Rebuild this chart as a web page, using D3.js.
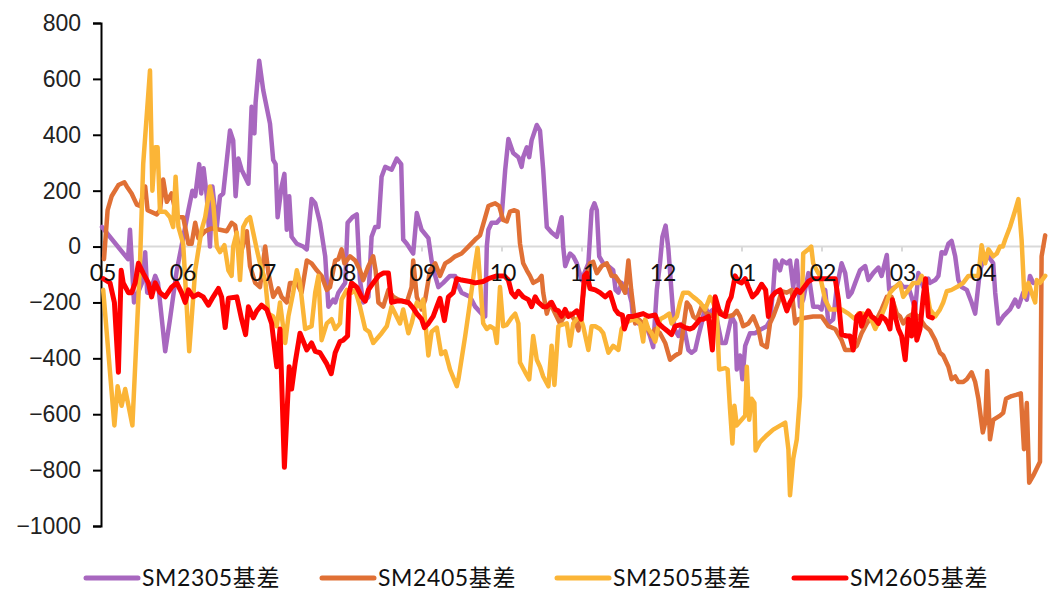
<!DOCTYPE html>
<html lang="zh">
<head>
<meta charset="utf-8">
<title>SM basis</title>
<script src="https://d3js.org/d3.v7.min.js"></script>
<style>
  body { margin: 0; background: #fff; }
  .yaxis text { font-family: "Liberation Sans", Arial, sans-serif; font-size: 23px; fill: #222; }
  .xlab { font-family: Lato, "Noto Sans", sans-serif; font-size: 23px; fill: #111; }
  .legend text { font-family: Lato, "Noto Sans CJK SC", sans-serif; font-size: 23px; letter-spacing: 0.6px; fill: #111; }
</style>
</head>
<body>
<script>
// months shown on the category axis (one label every 20 trading days)
var months = ["05", "06", "07", "08", "09", "10", "11", "12", "01", "02", "03", "04"];
var daysPerMonth = 20;
var lastDay = 236;

var yTicks = [800, 600, 400, 200, 0, -200, -400, -600, -800, -1000];

var names = ["SM2305基差", "SM2405基差", "SM2505基差", "SM2605基差"];
var colors = ["#a867bf", "#e07035", "#fbb537", "#ff0000"];

// [trading day, basis]
var sm2305 = [[0,70],[6.5,-45],[7,60],[8,-200],[10,-130],[10.8,-20],[11.3,-165],[12,-165],[13.3,-105],[14,-130],[15.8,-375],[17,-260],[18.7,-85],[20,10],[21.6,130],[22.6,200],[23.3,180],[24.3,295],[24.8,190],[25.4,280],[26.2,180],[27,0],[27.6,215],[28.7,70],[29.5,180],[30.3,190],[32,415],[32.8,380],[33.4,180],[34.1,315],[34.9,275],[36.6,225],[37.4,500],[38.1,405],[38.4,515],[39.3,665],[40.3,560],[42,440],[42.8,310],[43.4,295],[43.9,105],[44.9,215],[45.6,260],[46.2,60],[46.8,180],[47.4,35],[48.7,10],[50.3,0],[51.2,-10],[52.4,170],[53.3,155],[54.5,85],[55.8,-35],[56.6,-215],[57.8,-190],[58.3,-200],[59.1,-165],[60.8,-130],[61.4,85],[62.6,105],[63.7,115],[64.5,-120],[65.3,-200],[66.6,-180],[67.4,35],[68.3,70],[69.1,70],[69.9,250],[70.8,285],[72.4,275],[73.7,315],[74.8,295],[75.3,25],[76.2,10],[77.8,-25],[78.7,120],[79.9,60],[81.6,30],[82.4,-50],[83.3,-105],[84.1,-145],[85.3,-130],[87,-105],[88.3,-105],[88.7,-130],[89.9,-165],[92,-180],[93.3,-215],[94.9,-240],[95.8,-250],[96.2,0],[96.6,60],[97.4,85],[98.7,85],[99.9,105],[100.8,275],[101.6,385],[102.8,335],[104.1,320],[104.9,285],[105.3,320],[106.2,355],[106.8,320],[107.4,380],[108.7,435],[109.5,415],[110.3,275],[111.2,70],[112.4,50],[113.7,35],[114.9,105],[115.3,0],[115.8,-70],[117,-25],[117.8,-35],[118.7,-60],[119.9,-120],[121.6,-60],[122.4,130],[123.1,155],[123.7,130],[124.3,-35],[125.3,-60],[126.6,-70],[127.8,-85],[128.4,-155],[129.1,-165],[129.9,-130],[130.8,-165],[131.6,-155],[132.4,-200],[132.8,-260],[134.1,-275],[135.8,-275],[137,-320],[137.8,-360],[138.7,-155],[139.5,-60],[140.1,35],[140.9,75],[141.6,-10],[142.4,-165],[143.1,-295],[144.1,-320],[145.3,-275],[146.6,-370],[147.4,-380],[148.3,-370],[149.1,-320],[149.9,-275],[150.8,-215],[151.6,-240],[152.8,-225],[153.7,-260],[154.9,-345],[155.9,-345],[157.4,-250],[158.3,-275],[158.7,-440],[159.5,-390],[160.1,-475],[160.8,-355],[162,-310],[163.3,-310],[164.9,-295],[166.2,-285],[167,-265],[167.8,-155],[168.3,-50],[169.5,-85],[170.1,-50],[171.2,-60],[172,-50],[172.8,-145],[173.7,-50],[174.5,-215],[175.3,-190],[176.6,-95],[177.8,-215],[179.1,-215],[179.9,-225],[180.8,-155],[181.6,-275],[182.8,-260],[183.7,-145],[184.9,-60],[185.8,-95],[186.6,-180],[187.4,-165],[188.3,-130],[189.5,-85],[190.8,-70],[191.6,-120],[192.8,-95],[194.1,-75],[194.9,-105],[196.2,-30],[196.8,-155],[198.3,-145],[199.5,-130],[200.3,-145],[201.6,-145],[202.4,-180],[203.3,-225],[204.1,-95],[205.3,-145],[206.6,-115],[207,-130],[208.3,-120],[209.1,-105],[209.9,-20],[210.8,-25],[211.6,10],[212.4,20],[213.3,-35],[214.1,-120],[214.9,-145],[216.2,-155],[217.4,-200],[218.3,-240],[219.5,-85],[220.3,-50],[221.6,-35],[222.8,-60],[223.3,-165],[224.1,-275],[225.3,-250],[227,-225],[228.3,-190],[229.1,-215],[230.3,-165],[231.2,-190],[232,-105],[232.8,-130]];

var sm2405 = [[0.5,-45],[1.4,130],[2.4,180],[4.1,220],[5.6,230],[6.2,215],[7.4,190],[8.7,150],[9.5,145],[10.8,215],[11.4,130],[13.7,115],[14.5,130],[15.3,240],[16.2,160],[17.4,190],[18.7,105],[20.3,105],[21.6,10],[22.4,10],[23.3,85],[24.1,30],[25.8,55],[27.4,65],[29.5,60],[31.2,55],[32.4,85],[33.3,75],[34.5,-35],[36.2,55],[37,-70],[38.3,-130],[39.5,-145],[40.8,0],[41.6,-95],[42.8,-180],[44.1,-150],[44.9,-180],[46.2,-200],[47,-130],[48.7,-130],[49.9,-165],[51.2,-50],[52.4,-60],[53.7,-85],[54.9,-105],[56.2,-155],[57,-145],[58.3,-50],[59.1,-45],[59.9,-10],[60.6,-60],[62,-35],[63.3,-50],[64.5,-85],[65.3,-120],[66.6,-70],[67.8,-35],[68.4,-85],[69.1,-200],[70.3,-215],[71.6,-155],[72.8,-180],[74.1,-190],[76.2,-200],[77.4,-145],[77.8,-50],[78.7,-180],[79.9,-225],[80.8,-190],[82,-85],[83.3,-60],[84.5,-105],[85.8,-60],[87,-50],[88.3,-35],[89.9,-25],[91.6,0],[93.3,25],[94.5,40],[95.6,95],[96.6,145],[97.4,150],[98.3,155],[99.3,145],[100.3,95],[101.2,90],[102,125],[103.1,130],[103.9,125],[104.5,10],[105.3,-60],[106.2,-85],[107,-105],[107.8,-130],[109.1,-120],[109.9,-105],[110.3,-165],[111.2,-240],[112,-200],[113.3,-240],[114.5,-275],[115.8,-245],[117,-240],[118.3,-265],[119.1,-300],[119.9,-215],[120.8,-120],[122,-60],[122.8,-55],[123.7,-95],[124.9,-70],[126.2,-60],[127.4,-105],[128.3,-105],[129.5,-130],[130.8,-165],[131.6,-50],[132.3,-155],[133.3,-275],[134.1,-260],[135.3,-275],[136.2,-285],[137.4,-320],[138.3,-295],[139.5,-310],[140.8,-345],[142,-405],[143.3,-390],[144.5,-380],[145.3,-295],[146.2,-200],[147,-215],[147.8,-250],[148.7,-260],[149.9,-215],[151.2,-240],[152.8,-250],[154.1,-225],[155.8,-250],[156.6,-250],[157.8,-245],[158.7,-230],[159.5,-250],[160.3,-285],[161.6,-275],[162.8,-250],[164.1,-295],[164.9,-350],[166.2,-360],[167,-275],[167.8,-250],[169.1,-200],[169.9,-160],[171.2,-165],[172.4,-155],[173.3,-275],[174.1,-260],[175.8,-255],[177.8,-250],[179.9,-250],[181.6,-285],[183.3,-295],[184.9,-335],[185.8,-370],[187.4,-370],[188.7,-355],[189.9,-310],[191.2,-275],[192.4,-250],[193.7,-260],[194.9,-225],[196.2,-180],[197.4,-180],[198.7,-240],[199.5,-250],[200.3,-275],[201.6,-250],[202.8,-240],[204.1,-250],[205.8,-285],[207,-300],[208.3,-335],[209.5,-380],[210.3,-390],[211.6,-430],[212.4,-475],[213.3,-465],[214.1,-485],[215.3,-485],[216.2,-475],[217.4,-450],[218.3,-485],[219.1,-545],[220.2,-665],[220.8,-630],[221.3,-445],[222,-690],[222.8,-620],[224.5,-605],[225.3,-595],[226,-545],[227.4,-535],[228.7,-530],[229.7,-525],[230.5,-725],[231.2,-560],[231.8,-845],[232.8,-820],[234.5,-770],[234.9,-35],[235.8,40]];

var sm2505 = [[0.3,-155],[3.1,-640],[3.9,-500],[4.9,-570],[5.8,-510],[7.6,-640],[9.5,-60],[10.3,295],[12,630],[12.6,200],[13.3,355],[13.9,355],[14.5,125],[15.8,125],[17,105],[17.8,70],[18.4,250],[19.1,70],[20.3,10],[21.8,-375],[23.3,-85],[24.9,60],[25.8,105],[27,215],[27.8,155],[28.7,0],[29.5,-20],[30.6,5],[31.6,-85],[32.4,-105],[32.8,0],[33.7,50],[34.5,-120],[35.3,70],[36.2,95],[37,105],[37.8,50],[38.7,-10],[39.5,-60],[40.8,-120],[41.6,-240],[42.8,-250],[43.7,-285],[44.5,-200],[45.8,-345],[46.6,-250],[47.8,-165],[48.7,-85],[49.5,-130],[50.8,-295],[52.4,-285],[53.3,-165],[54.1,-105],[54.9,-335],[56.2,-275],[57.4,-260],[58.3,-295],[59.5,-275],[59.9,-190],[61.2,-155],[62.4,-165],[63.3,-155],[64.5,-215],[65.8,-295],[66.8,-305],[67.8,-345],[69.9,-310],[71.2,-285],[72.4,-215],[73.3,-240],[74.5,-275],[75.3,-225],[76.6,-310],[77.4,-275],[78.7,-200],[79.5,-215],[80.3,-190],[81.6,-390],[82.4,-305],[83.7,-290],[84.8,-385],[85.8,-375],[87,-440],[88.7,-500],[89.1,-475],[90.8,-320],[92,-200],[93.3,-60],[93.9,-5],[94.5,-120],[95.3,-275],[96.2,-295],[97,-285],[98.1,-295],[98.7,-345],[99.5,-145],[100.3,-285],[101.2,-280],[102.4,-255],[103.3,-240],[104.1,-275],[104.5,-415],[105.8,-450],[106.8,-475],[107.8,-320],[108.7,-405],[109.5,-430],[110.3,-465],[111.6,-500],[112.4,-355],[113.1,-495],[114.1,-285],[114.9,-280],[116.2,-275],[117,-355],[117.8,-275],[118.7,-260],[119.5,-250],[120.3,-285],[121.6,-370],[122.4,-285],[123.3,-285],[124.5,-295],[125.3,-310],[126.6,-380],[127.8,-355],[129.1,-370],[129.9,-295],[130.8,-275],[132,-265],[133.3,-260],[134.5,-275],[135.3,-340],[135.8,-260],[136.6,-295],[137.4,-310],[138.3,-340],[139.5,-260],[140.8,-250],[141.8,-240],[142.4,-275],[143.7,-250],[144.5,-200],[145.3,-165],[146.6,-165],[147.8,-180],[148.7,-190],[149.5,-200],[150.8,-225],[152,-180],[152.8,-200],[153.7,-240],[154.3,-440],[155.8,-435],[156.4,-440],[157,-580],[157.6,-705],[158.1,-570],[158.7,-640],[159.9,-620],[160.8,-605],[161.2,-430],[161.8,-620],[162.4,-545],[163.1,-560],[163.4,-730],[164.5,-700],[166.2,-675],[167.8,-655],[170.8,-630],[171.6,-725],[172,-890],[172.8,-760],[173.7,-690],[174.5,-535],[174.9,-260],[175.3,-25],[176.6,-10],[177.3,0],[177.8,-60],[178.7,-85],[179.5,-105],[180.8,-190],[182,-225],[183.3,-225],[184.9,-225],[186.6,-240],[188.3,-260],[189.1,-240],[190.3,-240],[191.2,-250],[192,-250],[193.3,-295],[194.5,-260],[195.8,-215],[197,-165],[198.3,-145],[199.5,-130],[200.3,-180],[201.6,-155],[202.8,-130],[204.1,-130],[204.9,-105],[205.8,-130],[207,-225],[208.3,-250],[209.5,-225],[210.3,-200],[211.2,-160],[212.4,-155],[213.7,-145],[215.3,-130],[216.6,-105],[217.8,-105],[219.1,-105],[219.9,5],[220.8,-60],[221.6,-10],[222.8,-35],[223.7,-25],[224.5,0],[225.2,0],[225.8,25],[227,70],[228.3,130],[229.1,170],[229.9,25],[230.6,-180],[231.6,-130],[232.4,-165],[233.3,-200],[233.7,-120],[234.5,-130],[235.8,-105]];

var sm2605 = [[0.3,-115],[2,-130],[3.1,-200],[4.1,-450],[4.8,-85],[5.3,-130],[6.6,-165],[7.4,-165],[8.3,-130],[9.1,-60],[10.3,-95],[11.6,-130],[12.4,-180],[13.3,-130],[14.5,-165],[15.8,-180],[17.4,-145],[18.7,-130],[19.9,-165],[20.8,-200],[21.6,-155],[22.8,-180],[24.1,-170],[25.3,-180],[26.6,-210],[27.8,-180],[29.1,-150],[29.9,-180],[30.8,-290],[31.6,-185],[33.7,-180],[34.9,-260],[35.9,-315],[36.6,-215],[37.8,-255],[38.7,-230],[39.9,-210],[41.2,-225],[42.4,-275],[43.7,-430],[44.5,-295],[45.6,-790],[46.8,-430],[47.4,-510],[48.3,-415],[49.5,-310],[51.2,-370],[52.4,-345],[53.3,-375],[54.5,-380],[56.2,-420],[57.3,-455],[58.3,-380],[59.5,-340],[60.3,-335],[61.4,-320],[61.8,-165],[62.4,-130],[63.7,-145],[64.9,-180],[65.8,-195],[66.6,-155],[67.8,-130],[69.1,-105],[70.3,-95],[71.6,-95],[72.4,-200],[73.7,-195],[74.9,-195],[76.6,-200],[77.8,-220],[78.7,-240],[79.9,-260],[80.6,-290],[81.6,-275],[82.8,-250],[83.7,-215],[84.5,-185],[85.6,-265],[86.6,-180],[87.8,-165],[88.7,-115],[89.9,-120],[92,-125],[93.3,-130],[95.3,-125],[96.6,-115],[98.7,-105],[100.6,-105],[101.6,-120],[102.4,-165],[103.3,-180],[104.1,-160],[105.3,-180],[106.6,-190],[107.4,-215],[108.3,-180],[109.1,-200],[110.3,-215],[111.2,-215],[112.4,-200],[113.3,-225],[114.1,-230],[114.9,-250],[115.8,-225],[116.6,-250],[117.8,-240],[118.7,-230],[119.5,-250],[119.8,-260],[120.6,-105],[121.2,-95],[122,-150],[123.3,-155],[124.5,-165],[125.8,-180],[127,-165],[128.3,-225],[129.1,-240],[130.1,-245],[130.6,-295],[131.6,-250],[132.8,-250],[134.1,-245],[135.3,-240],[136.6,-250],[138.3,-245],[139.1,-275],[140.3,-290],[141.6,-305],[142.4,-315],[143.3,-285],[144.5,-280],[145.8,-290],[147,-295],[147.8,-290],[148.7,-275],[149.5,-260],[150.3,-260],[151.6,-250],[152.6,-370],[153.3,-180],[154.5,-240],[155.8,-250],[156.6,-200],[157.3,-180],[158.3,-105],[159.1,-125],[159.9,-130],[160.8,-115],[161.6,-145],[162.6,-180],[163.7,-165],[164.9,-135],[165.9,-155],[166.6,-250],[167.4,-180],[168.3,-165],[169.5,-155],[170.3,-190],[171.2,-230],[172,-200],[172.8,-180],[173.7,-155],[174.5,-165],[175.3,-150],[176.6,-125],[177.8,-115],[183.3,-115],[184.1,-190],[184.9,-315],[186.2,-320],[187,-320],[187.8,-370],[188.7,-250],[189.5,-240],[189.9,-285],[190.8,-250],[191.6,-230],[192.4,-250],[193.3,-260],[194.1,-275],[194.9,-250],[195.8,-260],[196.6,-280],[197,-295],[197.6,-190],[198.3,-250],[199.1,-295],[199.9,-320],[200.8,-405],[201.6,-260],[202.4,-320],[203.1,-200],[203.7,-335],[204.5,-295],[205.3,-180],[205.9,-115],[206.6,-250],[207.6,-255]];

var seriesData = [sm2305, sm2405, sm2505, sm2605];

var width = 1050, height = 590;
var margin = {top: 23, left: 101, right: 4, bottom: 64};

var svg = d3.select("body").append("svg")
    .attr("width", width)
    .attr("height", height);

var x = d3.scaleLinear()
    .domain([0, lastDay])
    .range([margin.left + 1, width - margin.right]);

var y = d3.scaleLinear()
    .domain([-1000, 800])
    .range([height - margin.bottom, margin.top]);

// zero line with month ticks
svg.append("line")
    .attr("x1", x(0)).attr("x2", x(lastDay))
    .attr("y1", y(0)).attr("y2", y(0))
    .attr("stroke", "#d9d9d9")
    .attr("stroke-width", 2);

var monthTicks = months.map(function(m, i) { return i * daysPerMonth; });

svg.selectAll(".mtick")
    .data(monthTicks)
    .enter().append("line")
    .attr("class", "mtick")
    .attr("x1", function(d) { return x(d); })
    .attr("x2", function(d) { return x(d); })
    .attr("y1", y(0))
    .attr("y2", y(0) + 5)
    .attr("stroke", "#d9d9d9")
    .attr("stroke-width", 2);

// y axis
var yAxis = d3.axisLeft(y)
    .tickValues(yTicks)
    .tickFormat(d3.format("d"))
    .tickSize(8)
    .tickPadding(12);

var yg = svg.append("g")
    .attr("class", "yaxis")
    .attr("transform", "translate(" + margin.left + ",0)")
    .call(yAxis);
yg.select(".domain").attr("stroke", "#000").attr("stroke-width", 2);
yg.selectAll(".tick line").attr("stroke", "#000").attr("stroke-width", 2);

// series
var line = d3.line()
    .x(function(d) { return x(d[0]); })
    .y(function(d) { return y(d[1]); });

svg.selectAll(".series")
    .data(seriesData)
    .enter().append("path")
    .attr("class", "series")
    .attr("d", line)
    .attr("fill", "none")
    .attr("stroke", function(d, i) { return colors[i]; })
    .attr("stroke-width", function(d, i) { return i == 3 ? 5 : 4.5; })
    .attr("stroke-linejoin", "round")
    .attr("stroke-linecap", "round");

// month labels drawn over the lines
svg.selectAll(".xlab")
    .data(months)
    .enter().append("text")
    .attr("class", "xlab")
    .attr("x", function(d, i) { return x(i * daysPerMonth) + 1; })
    .attr("y", y(0) + 34)
    .attr("text-anchor", "middle")
    .text(function(d) { return d; });

// legend
var legendX = [84, 320, 555, 792];
var lg = svg.append("g").attr("class", "legend");
var item = lg.selectAll("g")
    .data(names)
    .enter().append("g")
    .attr("transform", function(d, i) { return "translate(" + legendX[i] + ",578)"; });

item.append("line")
    .attr("x1", 2).attr("x2", 54)
    .attr("y1", 0).attr("y2", 0)
    .attr("stroke", function(d, i) { return colors[i]; })
    .attr("stroke-width", 5)
    .attr("stroke-linecap", "round");

item.append("text")
    .attr("x", 58)
    .attr("y", 8)
    .text(function(d) { return d; });
</script>
</body>
</html>
